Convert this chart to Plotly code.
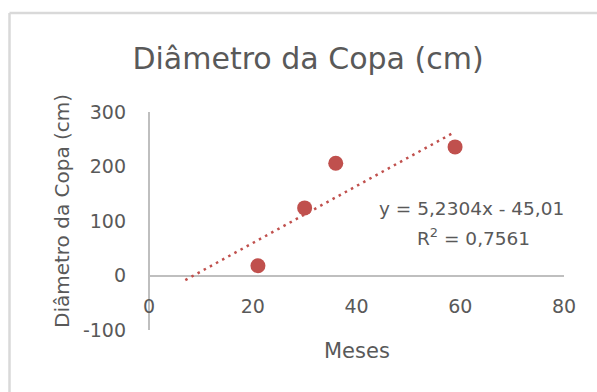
import plotly.graph_objects as go

# Data
meses = [21, 30, 36, 59]
diametro = [18, 124, 206, 236]

# Trendline reported in the chart
slope = 5.2304
intercept = -45.01
trend_x = [7, 59]
trend_y = [slope * x + intercept for x in trend_x]

title_text = "Diâmetro da Copa (cm)"
x_title = "Meses"
y_title = "Diâmetro da Copa (cm)"
eq_line1 = "y = 5,2304x - 45,01"
eq_line2 = "R<sup>2</sup> = 0,7561"

x_ticks = [0, 20, 40, 60, 80]
x_tick_labels = ["0", "20", "40", "60", "80"]
y_ticks = [-100, 0, 100, 200, 300]
y_tick_labels = ["-100", "0", "100", "200", "300"]

RED = "#C0504D"
GRAY_TXT = "#595959"
AXIS = "#BFBFBF"
BORDER = "#D9D9D9"
FONT = "DejaVu Sans"

# page pixels (body margin removed by post_script)
W, H = 597, 392
L, T = 149, 112
PW, PH = 415, 218
R = W - L - PW
B = H - T - PH


def px(fx):
    return (fx - L) / PW


def py(fy):
    return (T + PH - fy) / PH


fig = go.Figure()
fig.add_trace(go.Scatter(
    x=trend_x, y=trend_y, mode="lines",
    line=dict(color=RED, width=2.5, dash="2.5px,4.5px"),
    showlegend=False, hoverinfo="skip"))
fig.add_trace(go.Scatter(
    x=meses, y=diametro, mode="markers",
    marker=dict(color=RED, size=15),
    showlegend=False))

fig.update_layout(
    width=W, height=H,
    margin=dict(l=L, r=R, t=T, b=B, pad=0),
    paper_bgcolor="white", plot_bgcolor="white",
    font=dict(family=FONT, color=GRAY_TXT),
    title=dict(text=title_text, font=dict(size=30, color=GRAY_TXT, family=FONT),
               xref="container", yref="container", x=308 / W, xanchor="center",
               y=1 - 58 / H, yanchor="middle"),
    xaxis=dict(range=[0, 80], tickvals=x_ticks, ticktext=x_tick_labels,
               showgrid=False, showline=False,
               zeroline=True, zerolinecolor=AXIS, zerolinewidth=2,
               anchor="free", position=py(293),
               tickfont=dict(size=19, color=GRAY_TXT), ticks=""),
    yaxis=dict(range=[-100, 300], tickvals=y_ticks, ticktext=y_tick_labels,
               showgrid=False, showline=False,
               zeroline=True, zerolinecolor=AXIS, zerolinewidth=2,
               tickfont=dict(size=19, color=GRAY_TXT), ticks="",
               ticklabelstandoff=22),
    shapes=[
        dict(type="line", xref="paper", yref="paper",
             x0=px(9.5), x1=px(9.5), y0=py(H + 20), y1=py(13),
             line=dict(color=BORDER, width=2.5), layer="below"),
        dict(type="line", xref="paper", yref="paper",
             x0=px(9.5), x1=px(W + 20), y0=py(13), y1=py(13),
             line=dict(color=BORDER, width=2.5), layer="below"),
    ],
    annotations=[
        dict(text=x_title, xref="paper", yref="paper",
             x=px(357), y=py(351),
             xanchor="center", yanchor="middle", showarrow=False,
             font=dict(size=21, color=GRAY_TXT)),
        dict(text=y_title, xref="paper", yref="paper",
             x=px(62), y=py(211),
             xanchor="center", yanchor="middle", showarrow=False, textangle=-90,
             font=dict(size=20, color=GRAY_TXT)),
        dict(text=eq_line1, xref="paper", yref="paper",
             x=px(471), y=py(208),
             xanchor="center", yanchor="middle", showarrow=False,
             font=dict(size=18.5, color=GRAY_TXT)),
        dict(text=eq_line2, xref="paper", yref="paper",
             x=px(473), y=py(237),
             xanchor="center", yanchor="middle", showarrow=False,
             font=dict(size=18.5, color=GRAY_TXT)),
    ],
)

fig.write_html(
    "out.html",
    config={"displayModeBar": False},
    post_script="document.body.style.margin='0px';document.body.style.overflow='hidden';",
)
